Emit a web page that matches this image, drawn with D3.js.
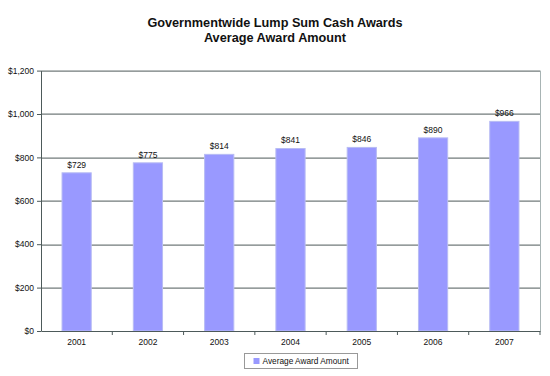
<!DOCTYPE html>
<html>
<head>
<meta charset="utf-8">
<script src="https://cdn.jsdelivr.net/npm/d3@7"></script>
<style>
  body { margin: 0; background: #fff; }
  svg { font-family: Arial, "Liberation Sans", sans-serif; }
</style>
</head>
<body>
<svg id="chart" width="550" height="376"></svg>
<script>
const years = ["2001", "2002", "2003", "2004", "2005", "2006", "2007"];
const amounts = [729, 775, 814, 841, 846, 890, 966];
const yTicks = [0, 200, 400, 600, 800, 1000, 1200];
const titleLines = ["Governmentwide Lump Sum Cash Awards", "Average Award Amount"];
const seriesName = "Average Award Amount";

const data = years.map((y, i) => ({ year: y, value: amounts[i] }));

const margin = { left: 41, right: 10, top: 70.6, bottom: 45 };
const svg = d3.select("#chart");
const width = 550 - margin.left - margin.right;
const height = 376 - margin.top - margin.bottom;

svg.selectAll("text.title")
    .data(titleLines)
    .enter().append("text")
    .attr("class", "title")
    .attr("x", 275)
    .attr("y", (d, i) => 26.5 + i * 15)
    .attr("text-anchor", "middle")
    .attr("font-size", 12.7)
    .attr("font-weight", "bold")
    .attr("fill", "#111")
    .text(d => d);

const chart = svg.append("g")
    .attr("transform", "translate(" + margin.left + "," + margin.top + ")");

const xScale = d3.scaleBand()
    .domain(years)
    .range([0, width])
    .paddingInner(0.59)
    .paddingOuter(0.295);

const xBounds = d3.scaleBand().domain(years).range([0, width]);

const yScale = d3.scaleLinear()
    .domain([0, 1200])
    .range([height, 0]);

// gridlines
chart.append("g")
    .selectAll("line")
    .data(yTicks.filter(d => d > 0))
    .enter().append("line")
    .attr("x1", 0)
    .attr("x2", width)
    .attr("y1", d => Math.round(yScale(d)) + 0.5)
    .attr("y2", d => Math.round(yScale(d)) + 0.5)
    .attr("stroke", "#4d5a5a")
    .attr("stroke-width", 1);

// right border
chart.append("line")
    .attr("x1", width + 0.5).attr("x2", width + 0.5)
    .attr("y1", 0).attr("y2", height)
    .attr("stroke", "#a8b4b4");

// bars
chart.selectAll("rect.bar")
    .data(data)
    .enter().append("rect")
    .attr("class", "bar")
    .attr("x", d => xScale(d.year))
    .attr("y", d => yScale(d.value))
    .attr("width", xScale.bandwidth())
    .attr("height", d => height - yScale(d.value))
    .attr("fill", "#9999ff")
    .attr("stroke", "#b8bcf4")
    .attr("stroke-width", 1);

// value labels
const f = d3.format("$,");
chart.selectAll("text.val")
    .data(data)
    .enter().append("text")
    .attr("class", "val")
    .attr("x", d => xScale(d.year) + xScale.bandwidth() / 2)
    .attr("y", d => yScale(d.value) - 5)
    .attr("text-anchor", "middle")
    .attr("font-size", 8.5)
    .attr("fill", "#111")
    .text(d => f(d.value));

// y axis
const yAxis = chart.append("g")
    .call(d3.axisLeft(yScale).tickValues(yTicks).tickFormat(f).tickSize(4).tickSizeOuter(0));
yAxis.select(".domain").attr("stroke", "#4d5a5a");
yAxis.selectAll(".tick line").attr("stroke", "#4d5a5a");
yAxis.selectAll(".tick text").attr("font-size", 8.5).attr("fill", "#111").attr("font-family", "Arial, 'Liberation Sans', sans-serif");

// x axis
const xAxis = chart.append("g")
    .attr("transform", "translate(0," + height + ")")
    .call(d3.axisBottom(xBounds).tickSize(0).tickSizeOuter(0));
xAxis.select(".domain").attr("stroke", "#4d5a5a");
xAxis.selectAll(".tick text").attr("dy", "1.3em").attr("font-size", 8.5).attr("fill", "#111").attr("font-family", "Arial, 'Liberation Sans', sans-serif");

// category boundary ticks
chart.append("g")
    .selectAll("line")
    .data(years.slice(1).concat(["end"]))
    .enter().append("line")
    .attr("x1", (d, i) => i < years.length - 1 ? xBounds(d) : width)
    .attr("x2", (d, i) => i < years.length - 1 ? xBounds(d) : width)
    .attr("y1", height)
    .attr("y2", height + 4)
    .attr("stroke", "#4d5a5a");

// legend
const legend = svg.append("g").attr("transform", "translate(244.5,353.5)");
legend.append("rect")
    .attr("width", 113)
    .attr("height", 15)
    .attr("fill", "#fff")
    .attr("stroke", "#333")
    .attr("stroke-dasharray", "1,1");
legend.append("rect")
    .attr("x", 9).attr("y", 4.5)
    .attr("width", 6).attr("height", 6)
    .attr("fill", "#9999ff");
legend.append("text")
    .attr("x", 18).attr("y", 10.5)
    .attr("font-size", 8.3)
    .attr("fill", "#111")
    .text(seriesName);
</script>
</body>
</html>
